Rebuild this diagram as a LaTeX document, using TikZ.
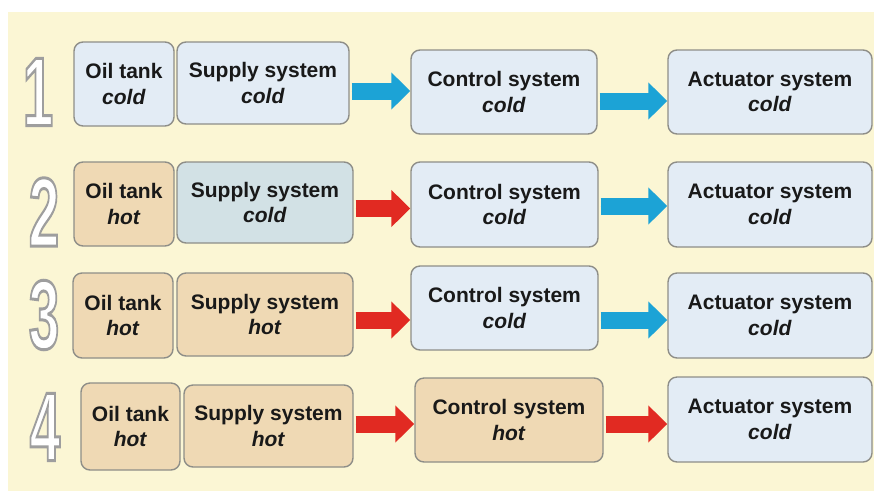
\documentclass[tikz,border=0pt]{standalone}
\usepackage{fontspec}
\setmainfont{Liberation Sans}
\usetikzlibrary{arrows.meta}
\definecolor{bgyellow}{HTML}{FBF6D4}
\definecolor{coldfill}{HTML}{E3ECF5}
\definecolor{coldgray}{HTML}{D2E1E5}
\definecolor{hotfill}{HTML}{EFD9B4}
\definecolor{boxline}{HTML}{8E8E88}
\definecolor{arrblue}{HTML}{1CA3D6}
\definecolor{arrred}{HTML}{E12A22}
\newcommand{\outlinedigit}[1]{\scalebox{0.56}[1]{\fontsize{98}{98}\selectfont\bfseries\color{white}\special{pdf:literal direct 2 Tr 3 w 0.62 0.62 0.62 RG}#1\special{pdf:literal direct 0 Tr}}}
\tikzset{
  box/.style={draw=boxline, line width=1.4pt, rounded corners=9pt, align=center,
    font=\fontsize{21}{25.5}\selectfont\bfseries, inner sep=0pt, text=black!90},
  coldbox/.style={box, fill=coldfill},
  coldgraybox/.style={box, fill=coldgray},
  hotbox/.style={box, fill=hotfill},
  flow/.style={line width=17pt, -{Triangle[width=36pt,length=19pt]}, shorten <=2pt},
  blueflow/.style={flow, draw=arrblue, fill=arrblue},
  redflow/.style={flow, draw=arrred, fill=arrred},
  digit/.style={inner sep=0pt}
}
\begin{document}
\begin{tikzpicture}[x=1pt,y=-1pt]
\useasboundingbox (0,0) rectangle (874,491);
\fill[white] (0,0) rectangle (874,491);
\fill[bgyellow] (8,12) rectangle (874,491);

% digits
\node[digit] (n1) at (38,92) {\outlinedigit{1}};
\node[digit] (n2) at (44,212) {\outlinedigit{2}};
\node[digit] (n3) at (44,315) {\outlinedigit{3}};
\node[digit] (n4) at (45,427) {\outlinedigit{4}};

% row 1
\node[coldbox, minimum width=100pt, minimum height=84pt] (o1) at (124,84) {Oil tank\\\textit{cold}};
\node[coldbox, minimum width=172pt, minimum height=82pt] (s1) at (263,83) {Supply system\\\textit{cold}};
\node[coldbox, minimum width=186pt, minimum height=84pt] (c1) at (504,92) {Control system\\\textit{cold}};
\node[coldbox, minimum width=204pt, minimum height=84pt] (a1) at (770,92) {Actuator system\\\textit{cold}};
\coordinate (r1a) at (0,91);
\coordinate (r1b) at (0,101);
\draw[blueflow] (s1.east |- r1a) -- (c1.west |- r1a);
\draw[blueflow] (c1.east |- r1b) -- (a1.west |- r1b);

% row 2
\node[hotbox, minimum width=100pt, minimum height=84pt] (o2) at (124,204) {Oil tank\\\textit{hot}};
\node[coldgraybox, minimum width=176pt, minimum height=81pt] (s2) at (265,202.5) {Supply system\\\textit{cold}};
\node[coldbox, minimum width=187pt, minimum height=85pt] (c2) at (504.5,204.5) {Control system\\\textit{cold}};
\node[coldbox, minimum width=204pt, minimum height=85pt] (a2) at (770,204.5) {Actuator system\\\textit{cold}};
\coordinate (r2a) at (0,208.5);
\coordinate (r2b) at (0,206);
\draw[redflow] (s2.east |- r2a) -- (c2.west |- r2a);
\draw[blueflow] (c2.east |- r2b) -- (a2.west |- r2b);

% row 3
\node[hotbox, minimum width=100pt, minimum height=85pt] (o3) at (123,315.5) {Oil tank\\\textit{hot}};
\node[hotbox, minimum width=176pt, minimum height=83pt] (s3) at (265,314.5) {Supply system\\\textit{hot}};
\node[coldbox, minimum width=187pt, minimum height=84pt] (c3) at (504.5,308) {Control system\\\textit{cold}};
\node[coldbox, minimum width=204pt, minimum height=85pt] (a3) at (770,315.5) {Actuator system\\\textit{cold}};
\coordinate (r3a) at (0,320);
\coordinate (r3b) at (0,320);
\draw[redflow] (s3.east |- r3a) -- (c3.west |- r3a);
\draw[blueflow] (c3.east |- r3b) -- (a3.west |- r3b);

% row 4
\node[hotbox, minimum width=99pt, minimum height=87pt] (o4) at (130.5,426.5) {Oil tank\\\textit{hot}};
\node[hotbox, minimum width=169pt, minimum height=82pt] (s4) at (268.5,426) {Supply system\\\textit{hot}};
\node[hotbox, minimum width=188pt, minimum height=84pt] (c4) at (509,420) {Control system\\\textit{hot}};
\node[coldbox, minimum width=204pt, minimum height=85pt] (a4) at (770,419.5) {Actuator system\\\textit{cold}};
\coordinate (r4a) at (0,424);
\coordinate (r4b) at (0,424);
\draw[redflow] (s4.east |- r4a) -- (c4.west |- r4a);
\draw[redflow] (c4.east |- r4b) -- (a4.west |- r4b);
\end{tikzpicture}
\end{document}
